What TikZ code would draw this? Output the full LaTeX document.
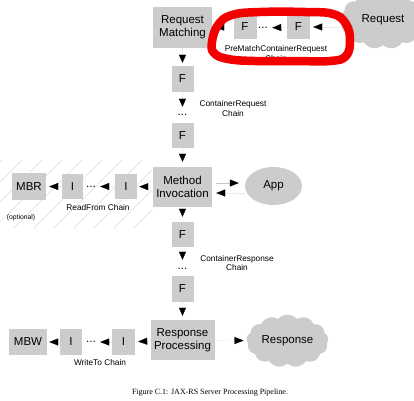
\documentclass[tikz,border=0pt]{standalone}
\usepackage{fontspec}
\setmainfont{Liberation Serif}
\newfontfamily\sansf{Liberation Sans}
\usetikzlibrary{arrows.meta,shapes.symbols,shapes.geometric}
\definecolor{boxgray}{HTML}{CCCCCC}
\definecolor{loopred}{HTML}{F20000}
\begin{document}
\begin{tikzpicture}[x=1pt,y=-1pt,
 box/.style={fill=boxgray,inner sep=0pt,align=center,font=\sansf\fontsize{11.5}{13}\selectfont},
 lbl/.style={inner sep=0pt,align=center,font=\sansf\fontsize{8.3}{9.2}\selectfont},
 dotsv/.style={inner sep=0pt,minimum width=10pt,minimum height=12pt,font=\sansf\fontsize{11.5}{13}\selectfont},
 dotsh/.style={inner sep=0pt,minimum width=18pt,minimum height=10pt,font=\sansf\fontsize{11.5}{13}\selectfont},
 av/.style={draw=gray!15,line width=0.3pt,-{Triangle[length=8pt,width=7pt,black]}},
 ah/.style={draw=gray!15,line width=0.3pt,-{Triangle[length=9pt,width=7pt,black]}},
 cloudy/.style={cloud,cloud puffs=13,cloud puff arc=100,fill=boxgray,inner sep=0pt,font=\sansf\fontsize{11.5}{13}\selectfont},
]
\useasboundingbox (0,0) rectangle (414,400);
% hatch
\begin{scope}
\clip (0,160) rectangle (152,228);
\foreach \a in {-66,-46,...,150} \draw[gray!28,line width=0.4pt] (\a,228) -- ++(68,-68);
\end{scope}
% column
\node[box,minimum width=59pt,minimum height=41pt] (RM) at (182.5,27.5) {Request\\Matching};
\node[box,minimum width=22pt,minimum height=26pt] (Fa) at (182.5,79) {F};
\node[dotsv] (d1) at (182.5,115) {...};
\node[box,minimum width=22pt,minimum height=25pt] (Fb) at (182.5,135.5) {F};
\node[box,minimum width=59pt,minimum height=40pt] (MI) at (182.5,187) {Method\\Invocation};
\node[box,minimum width=22pt,minimum height=25pt] (Fc) at (182.5,234.5) {F};
\node[dotsv] (d2) at (182.5,269) {...};
\node[box,minimum width=22pt,minimum height=26pt] (Fd) at (182.5,289) {F};
\node[box,minimum width=64pt,minimum height=40pt] (RP) at (182.5,340) {Response\\Processing};
% top chain
\node[box,minimum width=23pt,minimum height=24pt] (F1) at (245,27) {F};
\node[dotsh] (dt) at (263,28) {...};
\node[box,minimum width=23pt,minimum height=24pt] (F2) at (298.5,27) {F};
\node[cloudy,aspect=1.5,minimum width=86pt,minimum height=58pt] (Req) at (383,20) {Request};
\node[lbl] (lpre) at (276,53.5) {PreMatchContainerRequest\\Chain};
% labels of column chains
\node[lbl] (lcrq) at (233,108.5) {ContainerRequest\\Chain};
\node[lbl] (lcrs) at (237,263) {ContainerResponse\\Chain};
% read chain
\node[box,minimum width=22pt,minimum height=25pt] (Ir) at (126,186.5) {I};
\node[dotsh] (dr) at (91,186.5) {...};
\node[box,minimum width=21pt,minimum height=25pt] (Il) at (72.5,186.5) {I};
\node[box,minimum width=34pt,minimum height=27pt] (MBR) at (29,186.5) {MBR};
\node[lbl] (lrd) at (98,207.5) {ReadFrom Chain};
\node[lbl,font=\sansf\fontsize{6.8}{8}\selectfont] (lopt) at (21,218) {(optional)};
% write chain
\node[box,minimum width=23pt,minimum height=26pt] (Iwr) at (123.5,342) {I};
\node[dotsh] (dw) at (91,342) {...};
\node[box,minimum width=22pt,minimum height=26pt] (Iwl) at (71,342) {I};
\node[box,minimum width=38pt,minimum height=26pt] (MBW) at (28,342) {MBW};
\node[lbl] (lwr) at (100,363) {WriteTo Chain};
% app and response
\node[ellipse,fill=boxgray,inner sep=0pt,minimum width=57pt,minimum height=38pt,font=\sansf\fontsize{11.5}{13}\selectfont] (App) at (273.5,186) {App};
\node[cloudy,aspect=1.6,minimum width=82pt,minimum height=52pt] (Resp) at (287.5,341) {Response};
% arrows column
\draw[av,shorten >=3pt] (RM) -- (Fa);
\draw[av,shorten >=2pt] (Fa) -- (d1);
\draw[av,shorten >=5pt] (Fb) -- (MI);
\draw[av,shorten >=5pt] (MI) -- (Fc);
\draw[av,shorten >=3pt] (Fc) -- (d2);
\draw[av,shorten >=4pt] (Fd) -- (RP);
% top chain arrows
\draw[ah,shorten >=3pt] (Req.west |- F2) -- (F2);
\draw[ah] (F2) -- (dt);
\draw[ah,shorten >=3pt] (F1) -- (RM);
% read chain arrows
\draw[ah,shorten >=2pt] (MI) -- (Ir);
\draw[ah] (Ir) -- (dr);
\draw[ah,shorten >=3pt] (Il) -- (MBR);
% write chain arrows
\draw[ah,shorten >=3pt] (RP) -- (Iwr);
\draw[ah] (Iwr) -- (dw);
\draw[ah,shorten >=2pt] (Iwl) -- (MBW);
\draw[ah,shorten >=3pt] (RP) -- (Resp);
% app arrows
\draw[ah,draw=gray!45,line width=0.5pt,shorten <=4pt,shorten >=6pt] ([yshift=4pt]MI.east) -- ([yshift=4pt]MI.east -| App.west);
\draw[ah,shorten >=4pt] ([yshift=-6pt]MI.east -| App.west) -- ([yshift=-6pt]MI.east);
% red loop
\draw[loopred,line width=8.5pt] plot[smooth cycle,tension=0.7] coordinates {(212,42) (218,25) (232,15) (260,12) (305,12) (333,14) (346,24) (350,40) (346,56) (330,61) (295,61) (255,61) (228,59) (214,53)};
% caption
\node[font=\fontsize{8}{10}\selectfont,inner sep=0pt] (cap) at (210,393) {Figure C.1: JAX-RS Server Processing Pipeline.};
\end{tikzpicture}
\end{document}
